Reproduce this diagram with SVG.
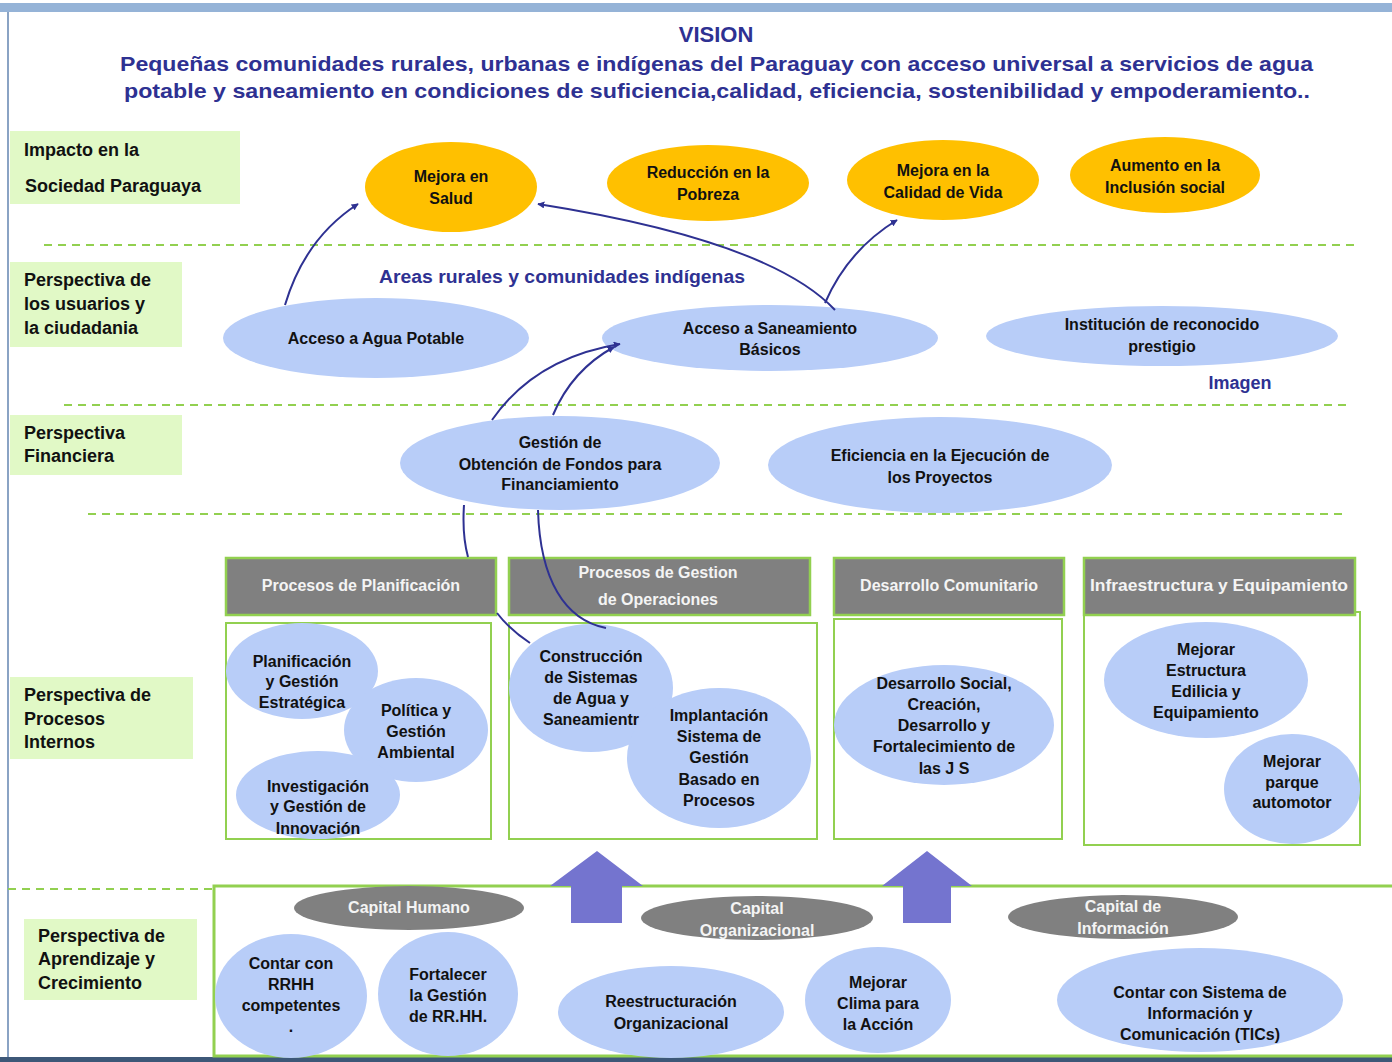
<svg xmlns="http://www.w3.org/2000/svg" width="1392" height="1062" viewBox="0 0 1392 1062">
<defs>
<style>
.lbl{font-family:"Liberation Sans",Arial,sans-serif;font-weight:bold;font-size:18px;fill:#111}
.t{font-family:"Liberation Sans",Arial,sans-serif;font-weight:bold;font-size:16px;fill:#111;text-anchor:middle}
.hd{font-family:"Liberation Sans",Arial,sans-serif;font-weight:bold;font-size:16px;fill:#f4f4f4;text-anchor:middle}
.cap{font-family:"Liberation Sans",Arial,sans-serif;font-weight:bold;font-size:16px;fill:#f4f4f4;text-anchor:middle}
.bl{font-family:"Liberation Sans",Arial,sans-serif;font-weight:bold;fill:#2e3192}
.gbox{fill:#e1f9c6}
.or{fill:#ffc000}
.lb{fill:#b8cdf8}
.gr{fill:#808080}
.hdr{fill:#808080;stroke:#92d050;stroke-width:2.5}
.wbox{fill:#fff;stroke:#92d050;stroke-width:2}
.dash{stroke:#92d050;stroke-width:2;stroke-dasharray:8 6;fill:none}
.con{fill:none;stroke:#2e3192;stroke-width:2}
.arr{fill:#7474cf}
</style>
<marker id="ah" viewBox="0 0 10 10" refX="9" refY="5" markerWidth="7" markerHeight="7" orient="auto" markerUnits="userSpaceOnUse">
<path d="M0,0 L10,5 L0,10 z" fill="#2e3192"/>
</marker>
</defs>
<rect x="0" y="0" width="1392" height="1062" fill="#fff"/>
<rect x="0" y="3" width="1392" height="9" fill="#95b3d7"/>
<line x1="8" y1="12" x2="8" y2="1058" stroke="#8aa3c4" stroke-width="2"/>
<rect x="0" y="1057" width="1392" height="5" fill="#3d5878"/>

<g id="vision">
<text class="bl" x="716" y="42" font-size="22" text-anchor="middle">VISION</text>
<text class="bl" x="120" y="71" font-size="21" textLength="1193" lengthAdjust="spacingAndGlyphs">Pequeñas comunidades rurales, urbanas e indígenas del Paraguay con acceso universal a servicios de agua</text>
<text class="bl" x="124" y="98" font-size="21" textLength="1186" lengthAdjust="spacingAndGlyphs">potable y saneamiento en condiciones de suficiencia,calidad, eficiencia, sostenibilidad y empoderamiento..</text>
</g>

<g id="dividers">
<line class="dash" x1="44" y1="245" x2="1355" y2="245"/>
<line class="dash" x1="64" y1="405" x2="1350" y2="405"/>
<line class="dash" x1="88" y1="514" x2="1345" y2="514"/>
<line class="dash" x1="8" y1="889" x2="212" y2="889"/>
</g>

<g id="lbl-impacto"><rect class="gbox" x="10" y="131" width="230" height="73"/>
<text class="lbl" x="24" y="156">Impacto en la</text><text class="lbl" x="25" y="192">Sociedad Paraguaya</text></g>
<g id="lbl-usuarios"><rect class="gbox" x="10" y="262" width="172" height="85"/>
<text class="lbl" x="24" y="286">Perspectiva de</text><text class="lbl" x="24" y="310">los usuarios y</text><text class="lbl" x="24" y="334">la ciudadania</text></g>
<g id="lbl-financiera"><rect class="gbox" x="10" y="415" width="172" height="60"/>
<text class="lbl" x="24" y="439">Perspectiva</text><text class="lbl" x="24" y="462">Financiera</text></g>
<g id="lbl-procesos"><rect class="gbox" x="10" y="677" width="183" height="82"/>
<text class="lbl" x="24" y="701">Perspectiva de</text><text class="lbl" x="24" y="725">Procesos</text><text class="lbl" x="24" y="748">Internos</text></g>
<g id="lbl-aprendizaje"><rect class="gbox" x="24" y="919" width="173" height="81"/>
<text class="lbl" x="38" y="942">Perspectiva de</text><text class="lbl" x="38" y="965">Aprendizaje y</text><text class="lbl" x="38" y="989">Crecimiento</text></g>

<g id="n-salud"><ellipse class="or" cx="451" cy="187" rx="86" ry="45"/>
<text class="t" x="451" y="182">Mejora en</text><text class="t" x="451" y="204">Salud</text></g>
<g id="n-pobreza"><ellipse class="or" cx="708" cy="183" rx="101" ry="38"/>
<text class="t" x="708" y="178">Reducción en la</text><text class="t" x="708" y="200">Pobreza</text></g>
<g id="n-calidad"><ellipse class="or" cx="943" cy="180" rx="96" ry="40"/>
<text class="t" x="943" y="176">Mejora en la</text><text class="t" x="943" y="198">Calidad de Vida</text></g>
<g id="n-inclusion"><ellipse class="or" cx="1165" cy="175" rx="95" ry="38"/>
<text class="t" x="1165" y="171">Aumento en la</text><text class="t" x="1165" y="193">Inclusión social</text></g>

<g id="n-areas"><text class="bl" x="379" y="283" font-size="18" textLength="366" lengthAdjust="spacingAndGlyphs">Areas rurales y comunidades indígenas</text></g>
<g id="n-agua"><ellipse class="lb" cx="376" cy="338" rx="153" ry="40"/>
<text class="t" x="376" y="344">Acceso a Agua Potable</text></g>
<g id="n-saneamiento"><ellipse class="lb" cx="770" cy="338" rx="168" ry="33"/>
<text class="t" x="770" y="334">Acceso a Saneamiento</text><text class="t" x="770" y="355">Básicos</text></g>
<g id="n-institucion"><ellipse class="lb" cx="1162" cy="336" rx="176" ry="30"/>
<text class="t" x="1162" y="330">Institución de reconocido</text><text class="t" x="1162" y="352">prestigio</text></g>
<g id="n-imagen"><text class="bl" x="1240" y="389" font-size="18" text-anchor="middle">Imagen</text></g>

<g id="n-fondos"><ellipse class="lb" cx="560" cy="463" rx="160" ry="47"/>
<text class="t" x="560" y="448">Gestión de</text><text class="t" x="560" y="470">Obtención de Fondos para</text><text class="t" x="560" y="490">Financiamiento</text></g>
<g id="n-eficiencia"><ellipse class="lb" cx="940" cy="465" rx="172" ry="48"/>
<text class="t" x="940" y="461">Eficiencia en la Ejecución de</text><text class="t" x="940" y="483">los Proyectos</text></g>

<g id="n-planificacion"><rect class="wbox" x="226" y="623" width="265" height="216"/>
<rect class="hdr" x="226" y="558" width="270" height="57"/>
<text class="hd" x="361" y="591">Procesos de Planificación</text>
<ellipse class="lb" cx="302" cy="671" rx="76" ry="48"/>
<text class="t" x="302" y="667">Planificación</text><text class="t" x="302" y="687">y Gestión</text><text class="t" x="302" y="708">Estratégica</text>
<ellipse class="lb" cx="416" cy="730" rx="72" ry="52"/>
<text class="t" x="416" y="716">Política y</text><text class="t" x="416" y="737">Gestión</text><text class="t" x="416" y="758">Ambiental</text>
<ellipse class="lb" cx="318" cy="795" rx="82" ry="44"/>
<text class="t" x="318" y="792">Investigación</text><text class="t" x="318" y="812">y Gestión de</text><text class="t" x="318" y="834">Innovación</text></g>

<g id="n-operaciones"><rect class="wbox" x="509" y="623" width="308" height="216"/>
<rect class="hdr" x="509" y="558" width="301" height="57"/>
<text class="hd" x="658" y="578">Procesos de Gestion</text><text class="hd" x="658" y="605">de Operaciones</text>
<ellipse class="lb" cx="591" cy="688" rx="82" ry="64"/>
<text class="t" x="591" y="662">Construcción</text><text class="t" x="591" y="683">de Sistemas</text><text class="t" x="591" y="704">de Agua y</text><text class="t" x="591" y="725">Saneamientr</text>
<ellipse class="lb" cx="719" cy="758" rx="92" ry="70"/>
<text class="t" x="719" y="721">Implantación</text><text class="t" x="719" y="742">Sistema de</text><text class="t" x="719" y="763">Gestión</text><text class="t" x="719" y="785">Basado en</text><text class="t" x="719" y="806">Procesos</text></g>

<g id="n-comunitario"><rect class="wbox" x="834" y="619" width="228" height="220"/>
<rect class="hdr" x="834" y="558" width="230" height="57"/>
<text class="hd" x="949" y="591">Desarrollo Comunitario</text>
<ellipse class="lb" cx="944" cy="725" rx="110" ry="60"/>
<text class="t" x="944" y="689">Desarrollo Social,</text><text class="t" x="944" y="710">Creación,</text><text class="t" x="944" y="731">Desarrollo y</text><text class="t" x="944" y="752">Fortalecimiento de</text><text class="t" x="944" y="774">las J S</text></g>

<g id="n-infraestructura"><rect class="wbox" x="1084" y="612" width="276" height="233"/>
<rect class="hdr" x="1084" y="558" width="271" height="57"/>
<text class="hd" x="1219" y="591" textLength="258" lengthAdjust="spacingAndGlyphs">Infraestructura y Equipamiento</text>
<ellipse class="lb" cx="1206" cy="680" rx="102" ry="58"/>
<text class="t" x="1206" y="655">Mejorar</text><text class="t" x="1206" y="676">Estructura</text><text class="t" x="1206" y="697">Edilicia y</text><text class="t" x="1206" y="718">Equipamiento</text>
<ellipse class="lb" cx="1292" cy="789" rx="68" ry="55"/>
<text class="t" x="1292" y="767">Mejorar</text><text class="t" x="1292" y="788">parque</text><text class="t" x="1292" y="808">automotor</text></g>

<g id="n-aprendizaje">
<rect x="214" y="886" width="1190" height="170" fill="#fff" stroke="#92d050" stroke-width="3"/>
</g>
<g id="n-arrow1"><path class="arr" d="M597,851 L643,886 L622,886 L622,923 L571,923 L571,886 L550,886 Z"/></g>
<g id="n-arrow2"><path class="arr" d="M927,851 L972,886 L951,886 L951,923 L903,923 L903,886 L882,886 Z"/></g>

<g id="n-capital-humano"><ellipse class="gr" cx="409" cy="908" rx="115" ry="22"/>
<text class="cap" x="409" y="913">Capital Humano</text></g>
<g id="n-capital-org"><ellipse class="gr" cx="757" cy="918" rx="116" ry="22"/>
<text class="cap" x="757" y="914">Capital</text><text class="cap" x="757" y="936">Organizacional</text></g>
<g id="n-capital-info"><ellipse class="gr" cx="1123" cy="917" rx="115" ry="22"/>
<text class="cap" x="1123" y="912">Capital de</text><text class="cap" x="1123" y="934">Información</text></g>

<g id="n-rrhh"><ellipse class="lb" cx="291" cy="996" rx="76" ry="62"/>
<text class="t" x="291" y="969">Contar con</text><text class="t" x="291" y="990">RRHH</text><text class="t" x="291" y="1011">competentes</text><text class="t" x="291" y="1032">.</text></g>
<g id="n-fortalecer"><ellipse class="lb" cx="448" cy="994" rx="70" ry="62"/>
<text class="t" x="448" y="980">Fortalecer</text><text class="t" x="448" y="1001">la Gestión</text><text class="t" x="448" y="1022">de RR.HH.</text></g>
<g id="n-reestructuracion"><ellipse class="lb" cx="671" cy="1012" rx="113" ry="46"/>
<text class="t" x="671" y="1007">Reestructuración</text><text class="t" x="671" y="1029">Organizacional</text></g>
<g id="n-clima"><ellipse class="lb" cx="878" cy="1000" rx="73" ry="53"/>
<text class="t" x="878" y="988">Mejorar</text><text class="t" x="878" y="1009">Clima para</text><text class="t" x="878" y="1030">la Acción</text></g>
<g id="n-tics"><ellipse class="lb" cx="1200" cy="1000" rx="143" ry="52"/>
<text class="t" x="1200" y="998">Contar con Sistema de</text><text class="t" x="1200" y="1019">Información y</text><text class="t" x="1200" y="1040">Comunicación (TICs)</text></g>

<g id="connectors">
<path class="con" d="M285,305 Q305,238 358,204" marker-end="url(#ah)"/>
<path class="con" d="M835,310 C790,262 690,228 538,204" marker-end="url(#ah)"/>
<path class="con" d="M825,303 Q848,250 897,220" marker-end="url(#ah)"/>
<path class="con" d="M492,420 Q535,358 620,344" marker-end="url(#ah)"/>
<path class="con" d="M553,415 Q572,370 614,347" marker-end="url(#ah)"/>
<path class="con" d="M464,505 Q462,535 468,557 M497,613 Q510,630 530,643"/>
<path class="con" d="M538,510 C540,580 565,620 606,628"/>
</g>
</svg>
